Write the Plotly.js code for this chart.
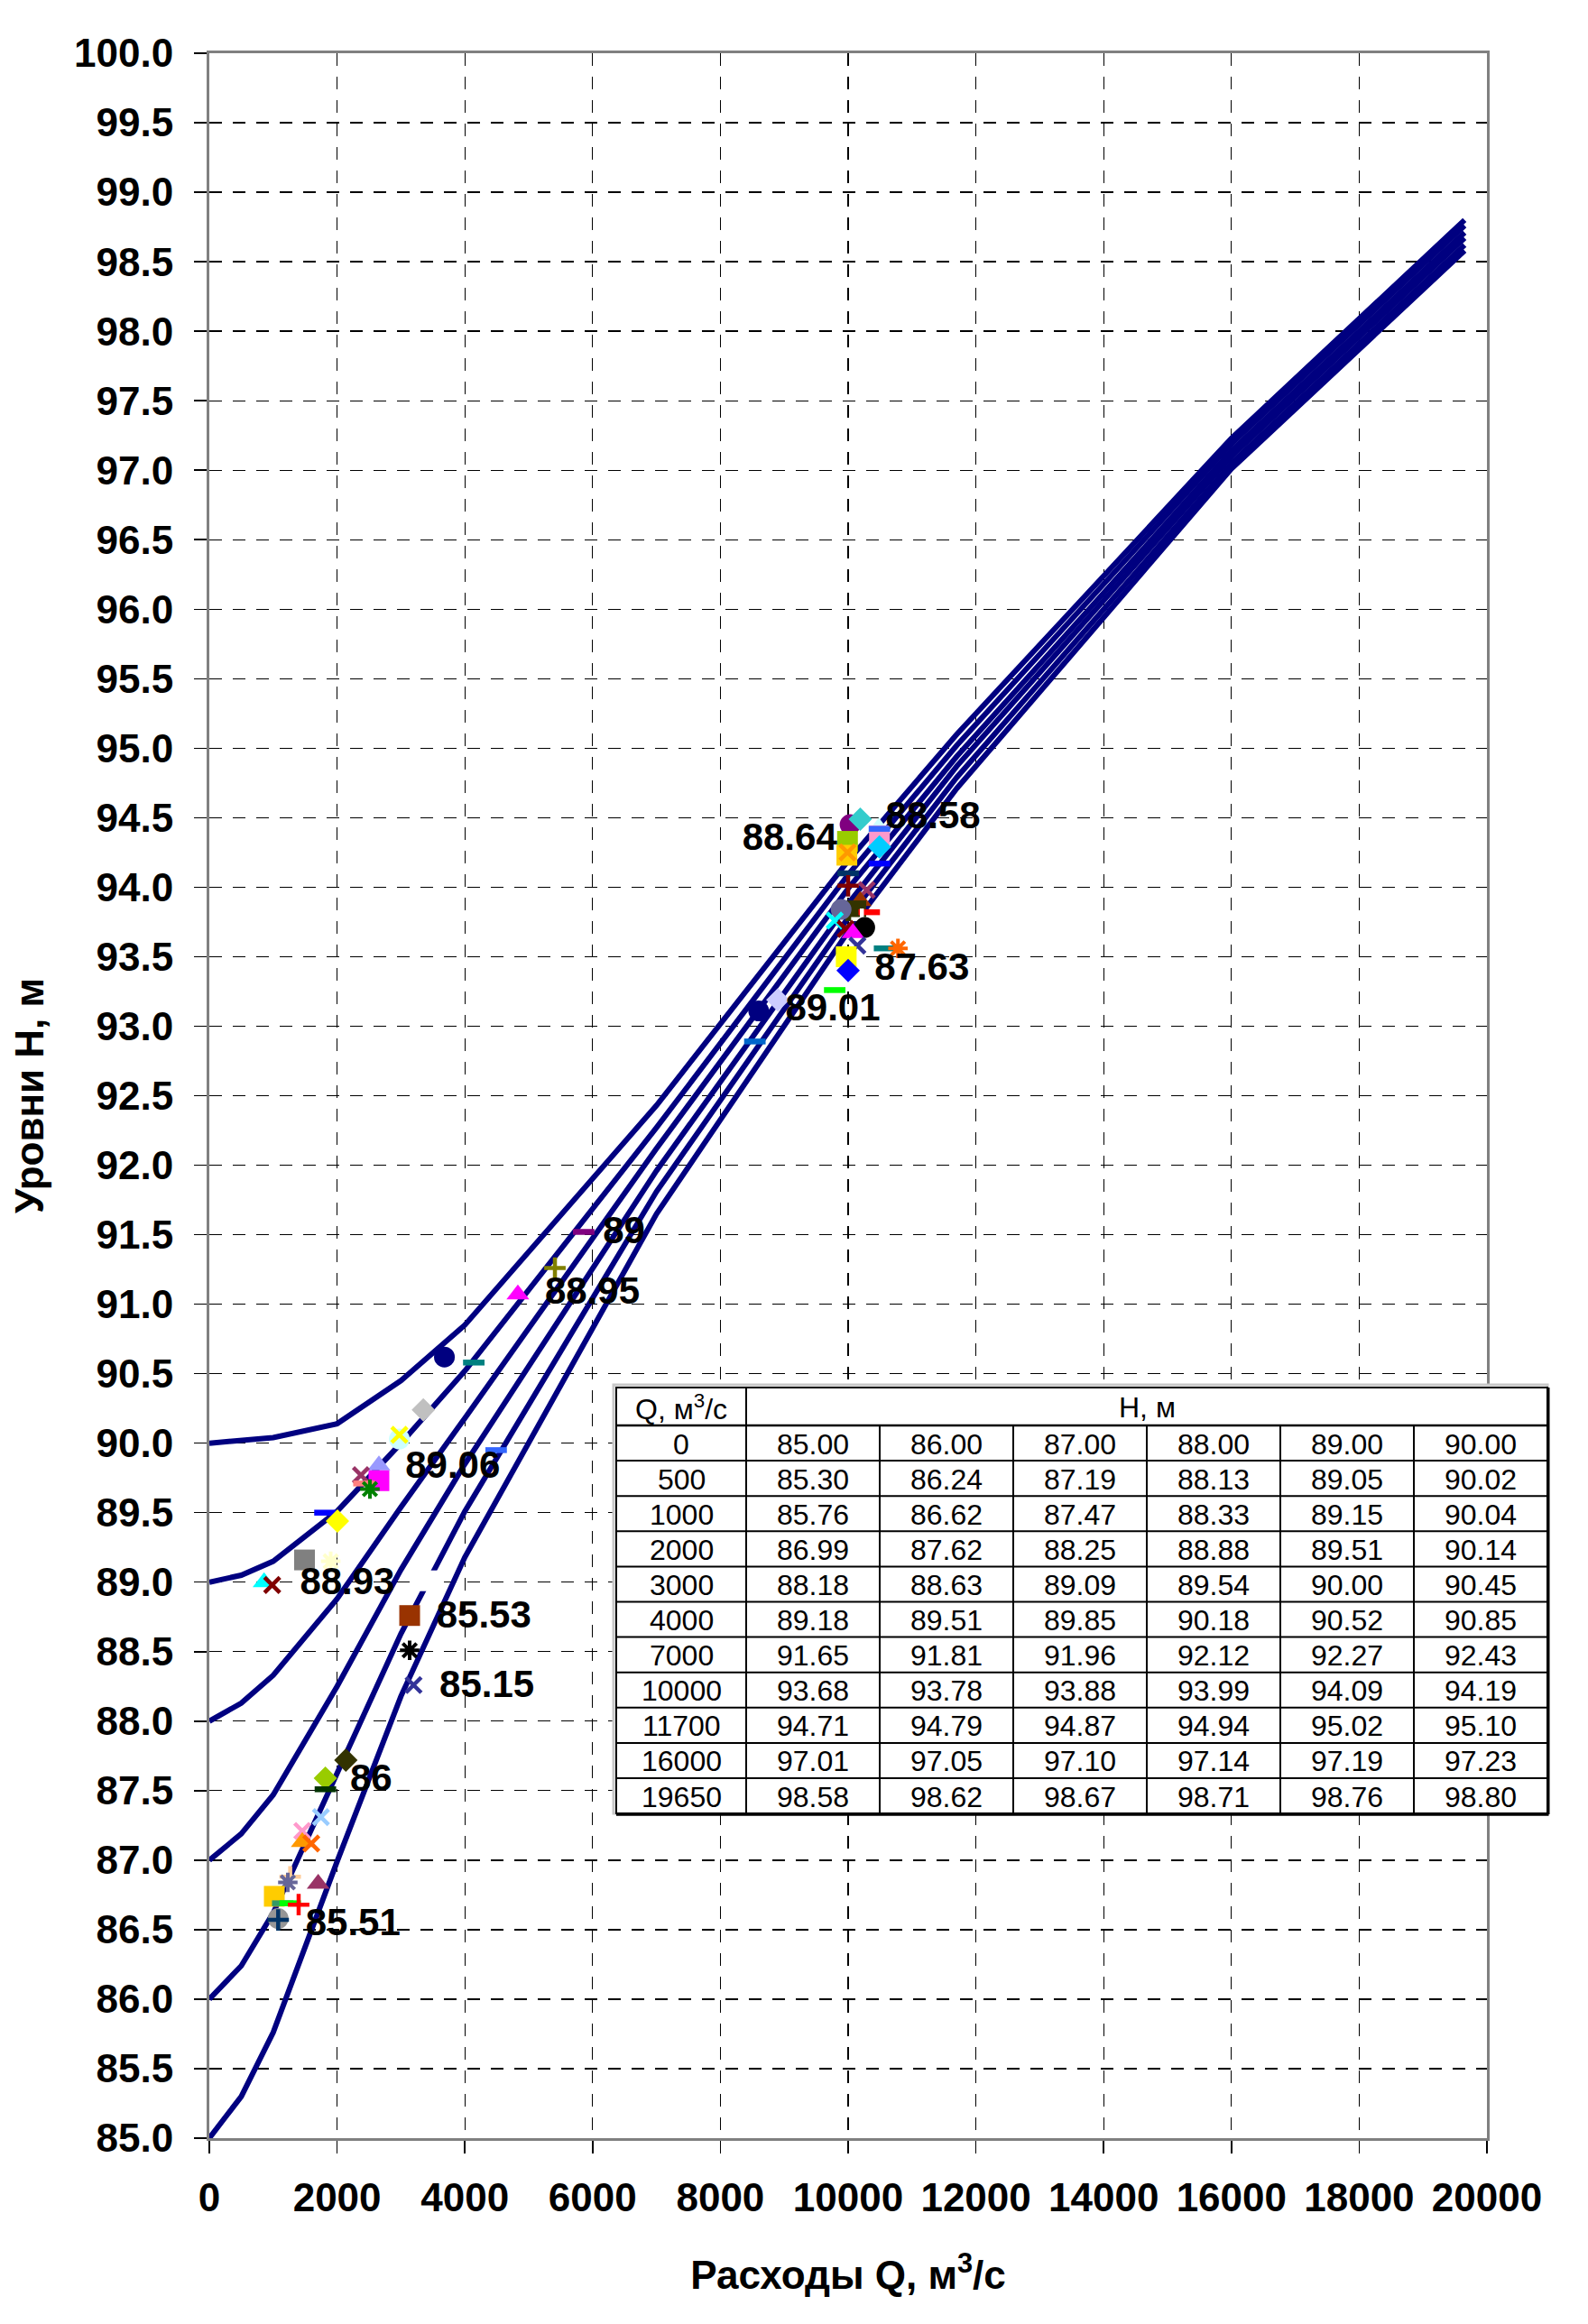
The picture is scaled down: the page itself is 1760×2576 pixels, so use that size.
<!DOCTYPE html>
<html><head><meta charset="utf-8">
<script src="https://cdn.plot.ly/plotly-3.0.1.min.js"></script>
<style>html,body{margin:0;padding:0;background:#fff}</style>
</head><body><div id="chart" style="width:1760px;height:2576px"></div>
<script>
// ---------- DATA ----------
const discharge = [0, 500, 1000, 2000, 3000, 4000, 7000, 10000, 11700, 16000, 19650];
const level85 = [85.00, 85.30, 85.76, 86.99, 88.18, 89.18, 91.65, 93.68, 94.71, 97.01, 98.58];
const level86 = [86.00, 86.24, 86.62, 87.62, 88.63, 89.51, 91.81, 93.78, 94.79, 97.05, 98.62];
const level87 = [87.00, 87.19, 87.47, 88.25, 89.09, 89.85, 91.96, 93.88, 94.87, 97.10, 98.67];
const level88 = [88.00, 88.13, 88.33, 88.88, 89.54, 90.18, 92.12, 93.99, 94.94, 97.14, 98.71];
const level89 = [89.00, 89.05, 89.15, 89.51, 90.00, 90.52, 92.27, 94.09, 95.02, 97.19, 98.76];
const level90 = [90.00, 90.02, 90.04, 90.14, 90.45, 90.85, 92.43, 94.19, 95.10, 97.23, 98.80];
const curveLevels = [level85, level86, level87, level88, level89, level90];

const tableHeadQ = 'Q, м<sup>3</sup>/с';
const tableHeadH = 'Н, м';

// measured points (Q, H)
const pointQ = [10030, 10190, 10480, 10490, 10490, 10490, 10490, 9990, 9980, 9990, 10000, 10000, 10290, 10190, 10120, 10330, 9890, 9790, 10215, 10260, 9960, 10075, 10145, 10570, 10780, 9970, 10000, 9790, 8600, 8900, 8540,
  5860, 5410, 4830, 3680, 4140, 3350, 2975, 2975, 4490, 2655, 2655, 2373, 2420, 2514, 1810, 2006, 1490, 1900, 857, 984, 3136, 3136, 3197, 3409,
  2137, 1817, 1817, 1747, 1455, 1455, 1596, 1266, 1229, 1704, 1017, 1149, 1266, 1398, 1078, 1078];
const pointH = [94.45, 94.49, 94.43, 94.37, 94.42, 94.29, 94.17, 94.33, 94.23, 94.25, 94.10, 94.01, 93.98, 93.90, 93.83, 93.82, 93.84, 93.76, 93.77, 93.71, 93.70, 93.67, 93.58, 93.56, 93.56, 93.50, 93.40, 93.26, 93.11, 93.19, 92.89,
  91.52, 91.26, 91.07, 90.62, 90.58, 90.24, 90.03, 90.06, 89.95, 89.84, 89.73, 89.77, 89.71, 89.67, 89.50, 89.44, 89.16, 89.15, 89.00, 88.98, 88.76, 88.51, 88.26, 89.01,
  87.72, 87.59, 87.51, 87.31, 87.21, 87.13, 87.12, 86.88, 86.84, 86.83, 86.74, 86.69, 86.69, 86.68, 86.58, 86.57];

// labels
const labelQ = [9085, 11330, 11155, 9760, 6490, 5995, 3810, 2160, 4298, 4345, 2533, 2250];
const labelH = [94.34, 94.49, 93.40, 93.11, 91.51, 91.07, 89.82, 88.98, 88.745, 88.24, 87.57, 86.53];
const labelText = ['88.64', '88.58', '87.63', '89.01', '89', '88.95', '89.06', '88.93', '85.53', '85.15', '86', '85.51'];

// ---------- STYLES ----------
const pointStyle = [
  ['circle','#800080'],['diamond','#33CCCC'],['triangle','#CCFFFF'],['square','#FF99CC'],['dash','#3366FF'],['diamond','#00CCFF'],['dash','#0000FF'],
  ['square','#99CC00'],['square','#FFCC00'],['x','#FF9900'],['dash','#003366'],['plus','#800000'],['x','#993366'],['triangle','#993300'],
  ['square','#333300'],['dash','#FF0000'],['circle','#666699'],['x','#00FFFF'],['plus','#FFFFFF'],['circle','#000000'],['x','#800000'],
  ['triangle','#FF00FF'],['x','#333399'],['dash','#008080'],['star','#FF6600'],['square','#FFFF00'],['diamond','#0000FF'],['dash','#00FF00'],
  ['circle','#000080'],['diamond','#CCCCFF'],['dash','#0066CC'],
  ['dash','#800080'],['plus','#808000'],['triangle','#FF00FF'],['circle','#000080'],['dash','#008080'],['diamond','#C0C0C0'],['circle','#CCFFFF'],
  ['x','#FFFF00'],['dash','#3366FF'],['triangle','#9999FF'],['square','#FF00FF'],['x','#993366'],['dash','#FF8080'],['star','#008000'],
  ['dash','#0000FF'],['diamond','#FFFF00'],['square','#808080'],['star','#FFFFCC'],['triangle','#00FFFF'],['x','#800000'],['square','#993300'],
  ['star','#000000'],['x','#333399'],['square','#FFFFFF'],
  ['diamond','#333300'],['diamond','#99CC00'],['dash','#003300'],['x','#99CCFF'],['x','#FF99CC'],['triangle','#FF9900'],['x','#FF6600'],
  ['plus','#FFCC99'],['star','#666699'],['triangle','#993366'],['square','#FFCC00'],['dash','#339966'],['dash','#00FF00'],['plus','#FF0000'],
  ['circle','#969696'],['plus','#003366']
];
const symMap = {circle:['circle',23,0], square:['square',23,0], diamond:['diamond',20,0], triangle:['triangle-up',22,0],
  dash:['line-ew-open',17,6.5], x:['x-thin-open',17,4.5], plus:['cross-thin-open',17,4.5], star:['asterisk-open',18,4]};

const W = 1760, H = 2576;
const M = {l: 232, r: 112, t: 59, b: 206};
const pw = W - M.l - M.r, ph = H - M.t - M.b;
const px = X => (X - M.l) / pw;
const py = Y => (H - M.b - Y) / ph;

const font = 'Liberation Sans, Arial, sans-serif';
const lineColor = '#000080';

const traces = curveLevels.map(lv => ({
  x: discharge, y: lv, type: 'scatter', mode: 'lines',
  line: {color: lineColor, width: 6}, hoverinfo: 'skip', showlegend: false
}));

traces.push({
  x: pointQ, y: pointH, type: 'scatter', mode: 'markers', showlegend: false, hoverinfo: 'skip',
  marker: {
    symbol: pointStyle.map(s => symMap[s[0]][0]),
    size: pointStyle.map(s => symMap[s[0]][1]),
    color: pointStyle.map(s => s[1]),
    opacity: 1,
    line: {width: pointStyle.map(s => symMap[s[0]][2]), color: pointStyle.map(s => s[1])}
  }
});

traces.push({
  x: labelQ, y: labelH, type: 'scatter', mode: 'text', text: labelText, textposition: 'middle center',
  textfont: {family: font, size: 42, color: '#000', weight: 'bold'}, cliponaxis: false,
  showlegend: false, hoverinfo: 'skip'
});

// ---------- TABLE (shapes + annotations) ----------
const tLeft = 683, tTop = 1538, headH = 42, rowH = 39.1;
const colW = [144, 148, 148, 148, 148, 148, 148];
const colEdges = [tLeft];
colW.forEach(w => colEdges.push(colEdges[colEdges.length - 1] + w));
const tRight = colEdges[colEdges.length - 1];
const nRows = discharge.length;
const tBottom = tTop + headH + nRows * rowH;

const shapes = [];
shapes.push({type: 'rect', xref: 'paper', yref: 'paper', layer: 'above',
  x0: px(tLeft - 3), x1: px(tRight), y0: py(tBottom), y1: py(tTop - 3),
  line: {color: '#C8C8C8', width: 3}, fillcolor: '#FFFFFF'});
shapes.push({type: 'rect', xref: 'paper', yref: 'paper', layer: 'above',
  x0: px(tLeft), x1: px(tRight), y0: py(tBottom), y1: py(tTop),
  line: {color: '#000', width: 2}, fillcolor: '#FFFFFF'});
shapes.push({type: 'line', xref: 'paper', yref: 'paper', layer: 'above',
  x0: px(tLeft), x1: px(tRight + 1.5), y0: py(tBottom + 1), y1: py(tBottom + 1), line: {color: '#000', width: 3.5}});
shapes.push({type: 'line', xref: 'paper', yref: 'paper', layer: 'above',
  x0: px(tRight + 1), x1: px(tRight + 1), y0: py(tBottom + 1), y1: py(tTop), line: {color: '#000', width: 3}});
for (let i = 0; i < nRows; i++) {
  const Y = tTop + headH + i * rowH;
  shapes.push({type: 'line', xref: 'paper', yref: 'paper', layer: 'above',
    x0: px(tLeft), x1: px(tRight), y0: py(Y), y1: py(Y), line: {color: '#000', width: i === 0 ? 2.5 : 2}});
}
for (let c = 1; c < colEdges.length - 1; c++) {
  const top = c === 1 ? tTop : tTop + headH;
  shapes.push({type: 'line', xref: 'paper', yref: 'paper', layer: 'above',
    x0: px(colEdges[c]), x1: px(colEdges[c]), y0: py(top), y1: py(tBottom), line: {color: '#000', width: 2}});
}

const tFont = {family: 'Liberation Sans Narrow, Arial Narrow, Liberation Sans, Arial, sans-serif', size: 32, color: '#000'};
const annotations = [];
const cellAnn = (X, Y, text) => ({xref: 'paper', yref: 'paper', x: px(X), y: py(Y), text: text,
  showarrow: false, xanchor: 'center', yanchor: 'middle', font: tFont});
annotations.push(cellAnn((colEdges[0] + colEdges[1]) / 2, tTop + headH / 2 + 1, tableHeadQ));
annotations.push(cellAnn((colEdges[1] + tRight) / 2, tTop + headH / 2 + 1, tableHeadH));
for (let r = 0; r < nRows; r++) {
  const Yc = tTop + headH + (r + 0.5) * rowH + 1;
  annotations.push(cellAnn((colEdges[0] + colEdges[1]) / 2, Yc, String(discharge[r])));
  curveLevels.forEach((lv, c) => {
    annotations.push(cellAnn((colEdges[c + 1] + colEdges[c + 2]) / 2, Yc, lv[r].toFixed(2)));
  });
}

const axisCommon = {
  showgrid: true, gridcolor: '#000', gridwidth: 1.3, griddash: '14px,12px',
  showline: true, linecolor: '#808080', linewidth: 3, mirror: true,
  ticks: 'outside', ticklen: 14, tickcolor: '#000', tickwidth: 1.5,
  zeroline: false, automargin: false,
  tickfont: {family: font, size: 44, color: '#000', weight: 'bold'}
};

const layout = {
  width: W, height: H, margin: M, paper_bgcolor: '#fff', plot_bgcolor: '#fff',
  showlegend: false,
  xaxis: Object.assign({}, axisCommon, {
    range: [0, 20000], tick0: 0, dtick: 2000, tickformat: 'd', ticklabelstandoff: 11,
    title: {text: 'Расходы Q, м<sup>3</sup>/с', standoff: 48, font: {family: font, size: 44, color: '#000', weight: 'bold'}}
  }),
  yaxis: Object.assign({}, axisCommon, {
    range: [85, 100], tick0: 85, dtick: 0.5, tickformat: '.1f', ticklabelstandoff: 14,
    title: {text: 'Уровни Н, м', standoff: 20, font: {family: font, size: 44, color: '#000', weight: 'bold'}}
  }),
  shapes: shapes,
  annotations: annotations
};

Plotly.newPlot('chart', traces, layout, {displayModeBar: false, staticPlot: true});
</script>
</body></html>
